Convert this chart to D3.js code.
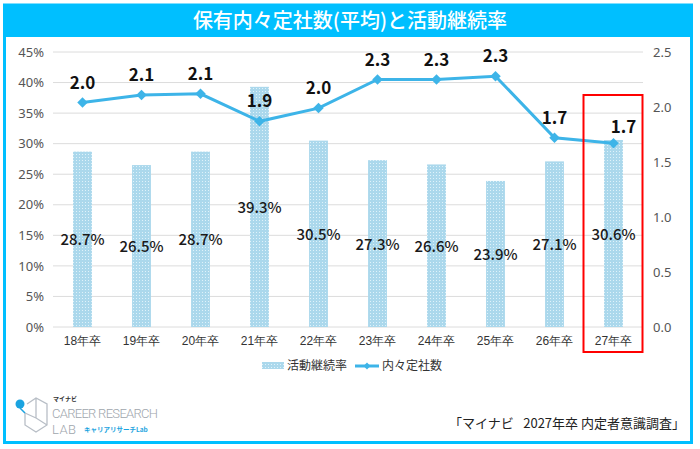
<!DOCTYPE html>
<html>
<head>
<meta charset="utf-8">
<script src="https://cdn.jsdelivr.net/npm/d3@7"></script>
<style>
  body { margin: 0; background: #fff; }
  svg { display: block; font-family: "Noto Sans CJK JP", "Noto Sans", sans-serif; }
</style>
</head>
<body>
<svg id="chart" width="700" height="449"></svg>
<script>
// data
const years = ["18年卒", "19年卒", "20年卒", "21年卒", "22年卒", "23年卒", "24年卒", "25年卒", "26年卒", "27年卒"];
const continueRate = [28.7, 26.5, 28.7, 39.3, 30.5, 27.3, 26.6, 23.9, 27.1, 30.6];
const offerCount = [2.04, 2.11, 2.12, 1.87, 1.99, 2.25, 2.25, 2.28, 1.72, 1.67];
const leftTicks = [0, 5, 10, 15, 20, 25, 30, 35, 40, 45];
const rightTicks = [0, 0.5, 1.0, 1.5, 2.0, 2.5];

const title = "保有内々定社数(平均)と活動継続率";
const source = "「マイナビ\u2002 2027年卒 内定者意識調査」";

const svg = d3.select("#chart");
const blue = "#00BFFF";
const lineBlue = "#3DB4E8";

// dotted pattern for bars
const defs = svg.append("defs");
const pat = defs.append("pattern")
  .attr("id", "dots")
  .attr("width", 3)
  .attr("height", 3)
  .attr("patternUnits", "userSpaceOnUse");
pat.append("rect").attr("width", 3).attr("height", 3).attr("fill", "#abd8ec");
pat.append("rect").attr("x", 1).attr("y", 1).attr("width", 1).attr("height", 1).attr("fill", "#dff2fa");

// frame + title band
svg.append("rect")
  .attr("x", 4.5).attr("y", 5)
  .attr("width", 687).attr("height", 437.5)
  .attr("fill", "#fff")
  .attr("stroke", blue)
  .attr("stroke-width", 3);
svg.append("rect")
  .attr("x", 3).attr("y", 4)
  .attr("width", 690).attr("height", 33)
  .attr("fill", blue);
svg.append("text")
  .attr("x", 350).attr("y", 28)
  .attr("text-anchor", "middle")
  .attr("fill", "#fff")
  .attr("font-size", 20)
  .attr("font-weight", 500)
  .text(title);

// scales
const x = d3.scaleBand().domain(years).range([53, 643]).paddingInner(0.68).paddingOuter(0.34);
const yL = d3.scaleLinear().domain([0, 45]).range([327, 52]);
const yR = d3.scaleLinear().domain([0, 2.5]).range([327, 52]);
const cx = (d) => x(d) + x.bandwidth() / 2;

// gridlines
svg.append("g")
  .selectAll("line")
  .data(leftTicks)
  .join("line")
  .attr("x1", 53).attr("x2", 643)
  .attr("y1", (d) => yL(d)).attr("y2", (d) => yL(d))
  .attr("stroke", "#dcdcdc")
  .attr("stroke-width", 1);

// left axis
const axL = svg.append("g")
  .attr("transform", "translate(47,0)")
  .call(d3.axisLeft(yL).tickValues(leftTicks).tickSize(0).tickFormat((d) => d + "%"));
axL.select(".domain").remove();
axL.selectAll("text").attr("font-size", 13).attr("fill", "#555").attr("font-family", "Noto Sans, sans-serif");

// right axis
const axR = svg.append("g")
  .attr("transform", "translate(650,0)")
  .call(d3.axisRight(yR).tickValues(rightTicks).tickSize(0).tickFormat(d3.format(".1f")));
axR.select(".domain").remove();
axR.selectAll("text").attr("font-size", 13).attr("fill", "#555").attr("font-family", "Noto Sans, sans-serif");

// x axis
const axB = svg.append("g")
  .attr("transform", "translate(0,333)")
  .call(d3.axisBottom(x).tickSize(0));
axB.select(".domain").remove();
axB.selectAll("text").attr("font-size", 12).attr("fill", "#333");

// bars
svg.append("g")
  .selectAll("rect")
  .data(continueRate)
  .join("rect")
  .attr("x", (d, i) => x(years[i]))
  .attr("y", (d) => yL(d))
  .attr("width", x.bandwidth())
  .attr("height", (d) => yL(0) - yL(d))
  .attr("fill", "url(#dots)");

// bar labels
svg.append("g")
  .selectAll("text")
  .data(continueRate)
  .join("text")
  .attr("x", (d, i) => cx(years[i]))
  .attr("y", (d) => (yL(d) + yL(0)) / 2 + 6)
  .attr("text-anchor", "middle")
  .attr("font-size", 15)
  .attr("font-weight", 500)
  .attr("fill", "#1a1a1a")
  .text((d) => d.toFixed(1) + "%");

// line
const line = d3.line().x((d, i) => cx(years[i])).y((d) => yR(d));
svg.append("path")
  .datum(offerCount)
  .attr("d", line)
  .attr("fill", "none")
  .attr("stroke", lineBlue)
  .attr("stroke-width", 3);

svg.append("g")
  .selectAll("path")
  .data(offerCount)
  .join("path")
  .attr("transform", (d, i) => `translate(${cx(years[i])},${yR(d)})`)
  .attr("d", d3.symbol(d3.symbolDiamond2, 70))
  .attr("fill", lineBlue);

// line labels
svg.append("g")
  .selectAll("text")
  .data(offerCount)
  .join("text")
  .attr("x", (d, i) => cx(years[i]) + (i === offerCount.length - 1 ? 10 : 0))
  .attr("y", (d, i) => yR(d) - (i === offerCount.length - 1 ? 10 : 14))
  .attr("text-anchor", "middle")
  .attr("font-size", 17)
  .attr("font-weight", 700)
  .attr("fill", "#111")
  .text((d) => d.toFixed(1));

// highlight box for last year
const last = years[years.length - 1];
svg.append("rect")
  .attr("x", cx(last) - 30)
  .attr("y", 95)
  .attr("width", 59)
  .attr("height", 257)
  .attr("fill", "none")
  .attr("stroke", "#f00")
  .attr("stroke-width", 2);

// legend
const lg = svg.append("g").attr("transform", "translate(0,366)");
lg.append("rect").attr("x", 262).attr("y", -4).attr("width", 22).attr("height", 7).attr("fill", "url(#dots)");
lg.append("text").attr("x", 287).attr("y", 4).attr("font-size", 12).attr("fill", "#333").text("活動継続率");
lg.append("line").attr("x1", 355).attr("x2", 379).attr("y1", 0).attr("y2", 0).attr("stroke", lineBlue).attr("stroke-width", 3);
lg.append("path").attr("transform", "translate(367,0)").attr("d", d3.symbol(d3.symbolDiamond2, 30)).attr("fill", lineBlue);
lg.append("text").attr("x", 382).attr("y", 4).attr("font-size", 12).attr("fill", "#333").text("内々定社数");

// source
svg.append("text")
  .attr("x", 685).attr("y", 428)
  .attr("text-anchor", "end")
  .attr("font-size", 13)
  .attr("fill", "#222")
  .style("white-space", "pre")
  .text(source);

// logo
const logo = svg.append("g");
logo.append("path")
  .attr("d", "M27,404 L36,398 L47,404 L47,425 L36,432 L25,425 L25,413 M36,398 L36,418 L47,425 M36,418 L25,413")
  .attr("fill", "none")
  .attr("stroke", "#b8bec6")
  .attr("stroke-width", 1.3);
logo.append("circle").attr("cx", 20).attr("cy", 404).attr("r", 4.5).attr("fill", "#1aa3e0");
logo.append("line").attr("x1", 20).attr("y1", 408).attr("x2", 25).attr("y2", 413).attr("stroke", "#1aa3e0").attr("stroke-width", 1.5);
logo.append("text").attr("x", 53).attr("y", 401).attr("font-size", 6).attr("font-weight", 700).attr("fill", "#333").text("マイナビ");
logo.append("text").attr("x", 52).attr("y", 418).attr("font-size", 13).attr("fill", "#a0a6ad").attr("font-family", "Roboto, sans-serif").attr("font-weight", 300).attr("textLength", 106).text("CAREER RESEARCH");
logo.append("text").attr("x", 52).attr("y", 434).attr("font-size", 13).attr("fill", "#a0a6ad").attr("font-family", "Roboto, sans-serif").attr("font-weight", 300).attr("textLength", 24).text("LAB");
logo.append("text").attr("x", 84).attr("y", 432).attr("font-size", 6.5).attr("font-weight", 700).attr("fill", "#1aa3e0").text("キャリアリサーチLab");
</script>
</body>
</html>
